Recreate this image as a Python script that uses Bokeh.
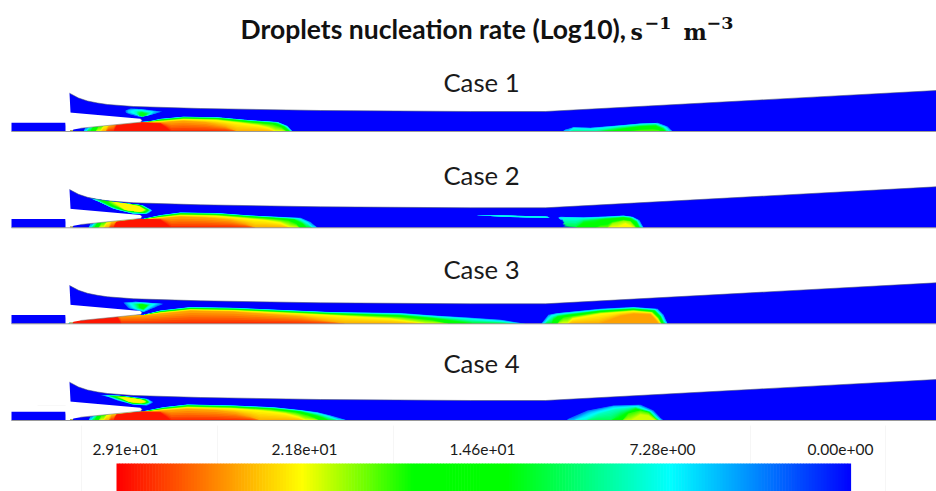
from bokeh.plotting import figure
from bokeh.models import Range1d
from bokeh.core.properties import value
from bokeh.embed import file_html
from bokeh.resources import INLINE
import numpy as np

# ---------- chart data ----------
title_text = "Droplets nucleation rate (Log10),"
case_names = ["Case 1", "Case 2", "Case 3", "Case 4"]
case_label_y = [81.5, 174.5, 268.5, 362.5]
wall_y = [131, 227.3, 323.3, 420]
bar_ticks = [29.1, 21.8, 14.6, 7.28, 0.0]
bar_labels = ["2.91e+01", "2.18e+01", "1.46e+01", "7.28e+00", "0.00e+00"]
label_x = [125, 304, 482, 662, 840]
stop_v = [0.0, 7.2, 13.7, 17.4, 21.8, 29.1]
stop_rgb = [(0, 0, 255), (0, 255, 255), (0, 255, 0), (0, 255, 0), (255, 255, 0), (255, 0, 0)]

outer_x = [69, 78, 87, 97, 107, 133, 200, 320, 470, 545, 750, 936]
outer_h = [38.3, 33.5, 30.5, 28.5, 27, 25, 23, 21, 20, 20, 31, 41]
wedge_x = [65, 69, 140, 141.5, 140, 80, 73, 71, 68, 65.5, 65]
wedge_h = [19, 19, 12.7, 11, 9.3, 3.3, 2, 0, 2, 5.5, 8.7]
inlet_x = [11, 65, 65, 11]
inlet_h = [0, 0, 8.7, 8.7]
tip_x = [69.5, 72.5, 72.5, 69.5]
tip_h = [0, 0, 1.6, 1.6]

# contour: (level, x stations, top height[, bottom height])
case1_core = [
 (4, [83,85,115,140,150,160,183,217,250,277,287,292], [0,4,8,9.5,10.5,12.7,14.8,14.2,11.2,9.5,5.5,0]),
 (8, [86,89,115,140,150,160,183,217,250,277,286,291], [0,5,8,9.2,10,12.2,14.3,13.8,10.8,9,5,0]),
 (14,[90,93,115,140,150,160,183,217,250,275,284,289], [0,5,8,8.8,9.5,11.6,13.7,13.2,10.2,8.2,4.5,0]),
 (18.5,[95,98,115,140,160,183,217,250,272,281,286], [0,5,8,8.8,11,13,12.3,9,7,4,0]),
 (22,[100,103,115,140,160,183,215,240,258,268,275], [0,5,8,8.8,10,12,11.3,8.5,6,3.5,0]),
 (24.5,[105,108,115,140,160,183,205,225,237], [0,5,8,8.8,9,10.5,9,5,0]),
 (28.5,[113,116,140,160,166,171], [0,6,9,8,4,0]),
]
case1_right = [
 (4, [562,565,573,590,617,640,657,667,672], [0,2,4.3,3.7,6,8,8.7,5,0]),
 (7, [568,573,590,617,640,655,665,669], [0,3.4,2.8,5.2,7.3,8,4.4,0]),
 (11,[596,617,640,655,663,666], [0,3.6,6,6.8,3.6,0]),
 (15,[612,625,640,655,661,664], [0,2.5,4.4,5,2.6,0]),
 (18.5,[630,640,652,658,660], [0,1.5,2,1.2,0]),
]
case1_blob = [
 (3, [125,130,140,150,160,162,160,150,140,130,125], [21,23,22.5,21.3,20,19.5,19.5,16.5,14.3,17,19]),
 (6, [128,134,141,150,154,150,141,134,128], [21,22,21.7,20.5,20,17,15,17.5,19]),
 (9, [136,140,146,150,146,140,136], [20,20.6,19.5,18.8,15.5,15.5,17.5]),
 (13,[139,142,146,142,139], [18.5,19,17.5,15,16]),
]

case2_core = [
 (4, [88,90,115,143,160,180,217,250,283,300,310,317], [0,4,8,9,12.7,15.3,14.7,12.3,10.7,10,5.7,0]),
 (8, [91,94,115,143,160,180,217,250,283,298,307,312], [0,5,8,8.7,12.2,14.8,14.2,11.8,10,9,5,0]),
 (14,[94,97,115,143,160,180,217,250,280,294,302,306], [0,5,8,8.5,11.6,14.2,13.6,11.2,9.4,8.2,4,0]),
 (18.5,[98,101,115,143,160,180,217,250,275,288,296,299], [0,5,8,8.4,11,13.4,12.8,10.4,8.6,7,3.5,0]),
 (22,[103,106,115,143,160,180,215,245,265,280,290], [0,5,8,8.4,10.2,12.4,11.8,9.2,7.5,5,0]),
 (24.5,[108,111,143,160,180,205,230,245,255], [0,5,8.4,9.4,11,10,7.5,4,0]),
 (28.5,[113,116,140,160,166,171], [0,6,9,8,4,0]),
]
case2_right = [
 (4, [558,560,583,605,623,632,639,643], [10,11,10.5,11.3,12.2,11,7.5,0], [10,8,0,0,0,0,0,0]),
 (8, [562,565,583,605,623,631,637,641], [9.8,10,9.6,10.4,11.5,10.5,7,0], [9.8,6,0,0,0,0,0,0]),
 (13,[575,583,605,623,630,636,639], [0,6,9,10.5,9.5,6,0]),
 (16,[595,600,610,623,629,634,637], [0,5,7.6,9,8.2,5,0]),
 (20,[607,612,623,630,635], [0,4.5,7,6,0]),
 (22,[617,625,632], [0,4,0]),
]
case2_sliver = [
 (4, [477,500,525,547,549], [12.9,12.5,11.8,11.4,9.8], [12.6,11,10.2,10,9.8]),
 (8, [490,510,530,545,548], [12.3,12,11.4,11,10.3], [12,11.2,10.6,10.4,10.3]),
]
case2_blob = [
 (3, [88,97,117,143,152,147,133,113,97,88], [30,28.5,25.7,22.3,17.3,14,14,19,26.7,30]),
 (8, [94,117,141,150,146,133,113,98,94], [28.6,25.3,22.6,17.6,14.5,14.5,19.5,26.4,28.6]),
 (14,[100,118,140,148,144,125,110,100], [27.5,25,22.3,17.6,15,17,22,27.5]),
 (18.5,[107,120,139,146,142,125,112,107], [26.5,24.8,21.8,17.8,15.6,17.6,23,26.5]),
 (22,[114,126,138,144,139,125,114], [25.6,24,21.6,18,16,18,25.6]),
]

case3_core = [
 (4, [68,70,115,143,160,190,233,330,400,433,467,500,525], [0,4,8,9,13.3,16.7,16,11.7,10.7,8.3,6.3,4,0]),
 (8, [69,71,115,143,160,190,233,330,400,433,467,500,517], [0,4,8,8.7,12.8,16.2,15.5,11.2,9.8,7.3,5,2.4,0]),
 (14,[69,71,115,143,160,190,233,330,400,433,455,472], [0,4,8,8.5,12.2,15.5,14.7,10.4,8.2,5.4,2.6,0]),
 (18.5,[69,71,115,143,160,190,233,330,400,432,448], [0,4,8,8.5,11.6,14.8,14,9.6,6.8,3.4,0]),
 (22,[70,72,115,143,160,190,233,330,390,425], [0,4,8,8.4,11,14,13.2,8.5,5,0]),
 (24.5,[71,73,115,143,160,190,233,300,345], [0,4,8,8.4,10,13,12,7,0]),
 (28.5,[71,73,105,117,121], [0,3,6,6.5,0]),
]
case3_right = [
 (4, [541,544,548,557,600,633,657,663,667], [0,4,9,10.7,15,16.7,15,9,0]),
 (8, [544,547,551,559,600,633,655,661,665], [0,4,8,9.6,14,15.8,14,8,0]),
 (14,[551,553,557,565,600,633,654,660,663], [0,4,7,8.5,12.8,14.8,13,7,0]),
 (18.5,[557,559,563,572,600,633,652,658,661], [0,3,6,7.6,11.6,13.8,12,6,0]),
 (22,[567,572,600,633,651,657,660], [0,5,10,12.6,11,5,0]),
 (24.5,[598,620,633,650,655,658], [0,8,10,9.4,4,0]),
]
case3_blob = [
 (3, [123,135,150,163,143,128,123], [21.2,22.2,21,20,11.7,15.6,21.2]),
 (6, [127,136,148,157,143,131,127], [20.6,21.5,20.6,20,12.4,16,20.6]),
 (9, [133,141,150,143,136,133], [20,20.5,19.5,13.4,15.5,20]),
 (13,[138,142,147,143,139,138], [19.5,19.6,18.4,14.6,16,19.5]),
 (17,[140,142,145,142,140], [18.4,18.6,17.6,15.6,18.4]),
]

case4_core = [
 (4, [88,90,115,143,163,187,233,273,300,317,330,347], [0,4,8,9.3,13.3,16,15,13.3,10.4,8.3,5,0]),
 (8, [91,94,115,143,163,187,233,273,300,317,328,338], [0,5,8,8.9,12.8,15.5,14.5,12.6,9.8,7,4,0]),
 (14,[94,97,115,143,163,187,233,273,300,313,322,328], [0,5,8,8.6,12.2,14.8,13.8,11.8,8.8,5.5,2.8,0]),
 (18.5,[98,101,115,143,163,187,233,270,295,307,314,319], [0,5,8,8.5,11.6,14,13,11,8,5,2.5,0]),
 (22,[103,106,115,143,163,187,230,262,285,298,305], [0,5,8,8.5,10.8,13,12,9.8,7,3.4,0]),
 (24.5,[108,111,143,163,187,215,235,250,260], [0,5,8.5,9.8,11.4,10.2,7.8,4,0]),
 (28.5,[113,116,140,160,166,171], [0,6,9,8,4,0]),
]
case4_right = [
 (3, [566,568,587,613,640,653,660,663], [0,1.7,10,15,15.7,10,2.5,0]),
 (6, [573,590,613,638,651,658,661], [0,8,13.7,14.7,9.3,2.3,0]),
 (9, [585,598,615,635,650,657,659], [0,6.5,11,13.5,8.8,2,0]),
 (12,[610,620,635,649,655,658], [0,7,12.3,8.5,2,0]),
 (15,[618,626,636,648,654,657], [0,6.5,11,8,2,0]),
 (18.5,[622,628,640,648,654,657], [0,7,10,8,3,0]),
 (21,[630,640,648,655], [0,6,5,0]),
]
case4_blob = [
 (3, [100,117,133,147,153,147,133,117,108,100], [25.5,25,23.5,21.7,18.3,15,15.7,20,23.5,25.5]),
 (8, [106,120,133,146,150,145,133,119,110,106], [25,24.5,22.8,21,18.2,16,16.5,20.5,23.5,25]),
 (14,[110,122,134,145,148,143,132,122,115,110], [24.6,24,22.4,20.8,18.2,16.6,17,20.5,23.2,24.6]),
 (18.5,[115,125,136,144,146,141,131,124,115], [24,23.4,21.8,20.4,18.4,17,17.8,20.6,24]),
 (22,[120,132,141,145,139,128,120], [23.4,22.2,20.6,18.6,17.6,19,23.4]),
]

cases = [
    [case1_core, case1_right],
    [case2_core, case2_right, case2_sliver],
    [case3_core, case3_right],
    [case4_core, case4_right],
]
blobs = [case1_blob, case2_blob, case3_blob, case4_blob]
faint_x = [81, 217, 393, 750, 885]

# ---------- helpers ----------
STEPS = np.linspace(0, 1, 6, endpoint=False)

def to_hex(v):
    c = [np.interp(v, stop_v, [s[i] for s in stop_rgb]) for i in range(3)]
    return "#%02x%02x%02x" % tuple(int(round(a)) for a in c)

def profile(x, c):
    xs = np.asarray(c[1], float)
    if len(c) > 3:
        lm = (c[2][0] + c[3][0]) / 2
        rm = (c[2][-1] + c[3][-1]) / 2
        return (np.interp(x, xs, c[2], left=lm, right=rm),
                np.interp(x, xs, c[3], left=lm, right=rm))
    return np.interp(x, xs, c[2], left=0, right=0), np.zeros_like(x)

def ring(c, n=60):
    x = np.asarray(c[1], float)
    h = np.asarray(c[2], float)
    if x[0] != x[-1] or h[0] != h[-1]:
        x = np.r_[x, x[0]]
        h = np.r_[h, h[0]]
    s = np.r_[0, np.cumsum(np.hypot(np.diff(x), np.diff(h)))]
    u = np.linspace(0, s[-1], n)
    return np.interp(u, s, x), np.interp(u, s, h)

# ---------- figure ----------
p = figure(width=936, height=491, output_backend="svg", toolbar_location=None,
           x_range=Range1d(0, 936), y_range=Range1d(491, 0),
           min_border=0, outline_line_color=None)
p.axis.visible = False
p.grid.visible = False
p.background_fill_color = "white"

BLUE = "#0000ff"
for fx in faint_x:
    p.line([fx, fx], [425, 491], line_color="#f6f6f6", line_width=1)
p.line([37, 936], [405, 405], line_color="#f8f8f8", line_width=1)

for base, name, ly, plumes, blob in zip(wall_y, case_names, case_label_y, cases, blobs):
    dx = list(outer_x) + [936, 71]
    dh = list(outer_h) + [0, 0]
    p.patch(dx, [base - h for h in dh], fill_color=BLUE, line_color=None)
    p.patch(inlet_x, [base - h for h in inlet_h], fill_color=BLUE, line_color=None)
    for plume in plumes:
        for a, b in zip(plume[:-1], plume[1:]):
            g = np.array(sorted(set(a[1]) | set(b[1])), float)
            ta, ba = profile(g, a)
            tb, bb = profile(g, b)
            for t in STEPS:
                top = ta + (tb - ta) * t
                bot = ba + (bb - ba) * t
                p.patch(np.r_[g, g[::-1]], base - np.r_[top, bot[::-1]],
                        fill_color=to_hex(a[0] + (b[0] - a[0]) * t), line_color=None)
        last = plume[-1]
        g = np.array(last[1], float)
        top, bot = profile(g, last)
        p.patch(np.r_[g, g[::-1]], base - np.r_[top, bot[::-1]],
                fill_color=to_hex(last[0]), line_color=None)
    for a, b in zip(blob[:-1], blob[1:]):
        xa, ha = ring(a)
        xb, hb = ring(b)
        for t in STEPS:
            p.patch(xa + (xb - xa) * t, base - (ha + (hb - ha) * t),
                    fill_color=to_hex(a[0] + (b[0] - a[0]) * t), line_color=None)
    xl, hl = ring(blob[-1])
    p.patch(xl, base - hl, fill_color=to_hex(blob[-1][0]), line_color=None)
    p.patch(wedge_x, [base - h for h in wedge_h], fill_color="white", line_color=None)
    p.patch(tip_x, [base - h for h in tip_h], fill_color="#a8a850", line_color=None)
    p.line(wedge_x[2:6], [base - h for h in wedge_h[2:6]], line_color="#777777", line_width=0.7, line_alpha=0.8)
    p.line(outer_x, [base - h for h in outer_h], line_color="#44506a", line_width=0.8, line_alpha=0.7)
    p.line([11, 936], [base, base], line_color="#9a9a9a", line_width=1)
    p.text([481], [ly], text=[name], text_font=value("Lato"), text_font_size="25.7px",
           text_align="center", text_baseline="middle", text_color="#1a1a1a")

# colour bar
edges = np.linspace(29.1, 0, 248)
span = 734 / 29.1
p.quad(left=116 + (29.1 - edges[:-1]) * span, right=116 + (29.1 - edges[1:]) * span + 0.6,
       top=463, bottom=491, fill_color=[to_hex(v) for v in edges[:-1]], line_color=None)
p.text(label_x, [449] * 5, text=bar_labels, text_font=value("Lato"), text_font_size="15.5px",
       text_align="center", text_baseline="middle", text_color="#1a1a1a")

# title
p.text([240], [28.5], text=[title_text], text_font=value("Lato"), text_font_size="26.5px",
       text_font_style="bold", text_baseline="middle", text_color="#111111")
p.text([630, 683], [31, 31], text=["s", "m"], text_font=value("DejaVu Serif"), text_font_size="22px",
       text_font_style="bold", text_baseline="middle", text_color="#111111")
p.text([644, 706], [22, 22], text=["\u22121", "\u22123"], text_font=value("DejaVu Serif"), text_font_size="17.5px",
       text_font_style="bold", text_baseline="middle", text_color="#111111")

open("out.html", "w").write(file_html(p, INLINE))
